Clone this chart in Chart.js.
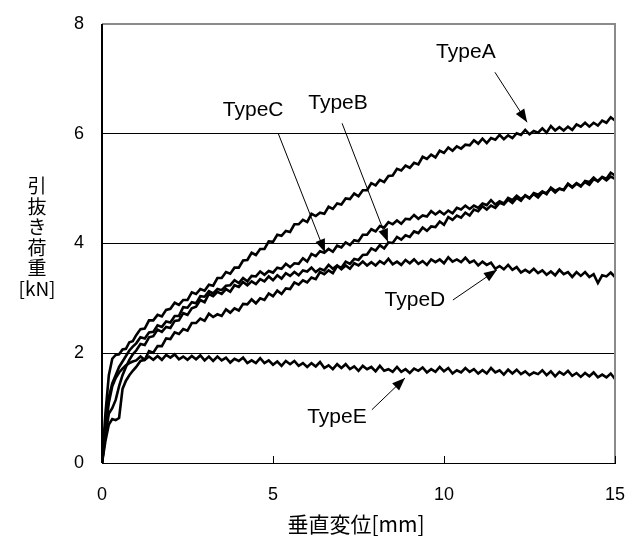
<!DOCTYPE html>
<html>
<head>
	<meta charset="utf-8" />
	<title>引抜き荷重 - 垂直変位</title>
	<script src="https://cdn.jsdelivr.net/npm/chart.js@4.4.1/dist/chart.umd.min.js"></script>
	<style>
		html, body { margin: 0; padding: 0; background: #fff; }
		#wrap { position: relative; width: 629px; height: 537px; }
	</style>
</head>
<body>
	<div id="wrap"><canvas id="graph"></canvas></div>

	<script type="text/javascript">
		// displacement [mm], shared by all five curves
		var disp = [0, 0.1, 0.2, 0.3, 0.4, 0.5, 0.6, 0.7, 0.8, 0.9, 1.0,
			1.125, 1.25, 1.375, 1.5, 1.625, 1.75, 1.875, 2.0,
			2.125, 2.25, 2.375, 2.5, 2.625, 2.75, 2.875, 3.0,
			3.125, 3.25, 3.375, 3.5, 3.625, 3.75, 3.875, 4.0,
			4.125, 4.25, 4.375, 4.5, 4.625, 4.75, 4.875, 5.0,
			5.125, 5.25, 5.375, 5.5, 5.625, 5.75, 5.875, 6.0,
			6.125, 6.25, 6.375, 6.5, 6.625, 6.75, 6.875, 7.0,
			7.125, 7.25, 7.375, 7.5, 7.625, 7.75, 7.875, 8.0,
			8.125, 8.25, 8.375, 8.5, 8.625, 8.75, 8.875, 9.0,
			9.125, 9.25, 9.375, 9.5, 9.625, 9.75, 9.875, 10.0,
			10.125, 10.25, 10.375, 10.5, 10.625, 10.75, 10.875, 11.0,
			11.125, 11.25, 11.375, 11.5, 11.625, 11.75, 11.875, 12.0,
			12.125, 12.25, 12.375, 12.5, 12.625, 12.75, 12.875, 13.0,
			13.125, 13.25, 13.375, 13.5, 13.625, 13.75, 13.875, 14.0,
			14.125, 14.25, 14.375, 14.5, 14.625, 14.75, 14.875, 15.0]

		// pull-out load [kN]
		var typeA = [0, 0.9, 1.6, 1.9, 1.97, 1.98, 2.07, 2.08, 2.2, 2.22, 2.33,
			2.44, 2.45, 2.60, 2.60, 2.70, 2.67, 2.79, 2.81,
			2.92, 2.88, 2.97, 2.97, 3.11, 3.08, 3.17, 3.14,
			3.25, 3.23, 3.37, 3.37, 3.48, 3.45, 3.56, 3.56,
			3.69, 3.70, 3.83, 3.79, 3.90, 3.90, 4.04, 4.03,
			4.16, 4.14, 4.23, 4.21, 4.35, 4.35, 4.43, 4.39,
			4.54, 4.50, 4.56, 4.54, 4.67, 4.63, 4.73, 4.71,
			4.82, 4.81, 4.91, 4.86, 4.97, 4.97, 5.10, 5.06,
			5.16, 5.12, 5.23, 5.24, 5.36, 5.33, 5.42, 5.38,
			5.47, 5.44, 5.58, 5.54, 5.62, 5.57, 5.69, 5.65,
			5.75, 5.69, 5.77, 5.73, 5.80, 5.79, 5.88, 5.82,
			5.91, 5.83, 5.92, 5.89, 5.98, 5.90, 5.97, 5.92,
			6.01, 5.98, 6.07, 5.99, 6.05, 6.02, 6.10, 6.02,
			6.14, 6.06, 6.12, 6.06, 6.13, 6.07, 6.17, 6.13,
			6.20, 6.13, 6.20, 6.15, 6.24, 6.20, 6.30, 6.24]
		var typeB = [0, 0.4, 0.7, 0.8, 0.78, 0.82, 1.35, 1.5, 1.6, 1.68, 1.75,
			1.86, 1.88, 2.04, 2.01, 2.13, 2.13, 2.27, 2.26,
			2.38, 2.35, 2.44, 2.41, 2.55, 2.55, 2.63, 2.59,
			2.72, 2.66, 2.71, 2.68, 2.80, 2.74, 2.82, 2.78,
			2.90, 2.89, 2.98, 2.91, 3.00, 2.97, 3.09, 3.04,
			3.14, 3.08, 3.18, 3.17, 3.29, 3.25, 3.33, 3.29,
			3.38, 3.35, 3.48, 3.44, 3.51, 3.46, 3.59, 3.56,
			3.67, 3.63, 3.72, 3.70, 3.79, 3.80, 3.91, 3.87,
			3.97, 3.91, 4.02, 4.01, 4.12, 4.07, 4.15, 4.12,
			4.22, 4.19, 4.29, 4.23, 4.31, 4.30, 4.40, 4.34,
			4.48, 4.43, 4.51, 4.47, 4.56, 4.51, 4.62, 4.59,
			4.68, 4.62, 4.69, 4.65, 4.74, 4.71, 4.80, 4.74,
			4.83, 4.78, 4.88, 4.83, 4.90, 4.84, 4.93, 4.92,
			5.00, 4.93, 5.00, 4.98, 5.09, 5.03, 5.10, 5.05,
			5.12, 5.07, 5.17, 5.14, 5.21, 5.15, 5.22, 5.18]
		var typeC = [0, 0.7, 1.2, 1.45, 1.6, 1.75, 1.85, 1.95, 2.05, 2.12, 2.18,
			2.29, 2.27, 2.38, 2.39, 2.51, 2.48, 2.58, 2.56,
			2.68, 2.68, 2.84, 2.83, 2.93, 2.91, 3.04, 3.03,
			3.13, 3.09, 3.17, 3.15, 3.23, 3.24, 3.33, 3.28,
			3.37, 3.31, 3.41, 3.40, 3.49, 3.43, 3.50, 3.47,
			3.56, 3.54, 3.63, 3.57, 3.64, 3.63, 3.73, 3.67,
			3.81, 3.77, 3.86, 3.83, 3.90, 3.85, 3.96, 3.93,
			4.02, 3.97, 4.06, 4.04, 4.16, 4.16, 4.26, 4.22,
			4.32, 4.29, 4.39, 4.35, 4.42, 4.36, 4.45, 4.44,
			4.52, 4.45, 4.51, 4.49, 4.59, 4.53, 4.59, 4.53,
			4.60, 4.55, 4.65, 4.62, 4.69, 4.63, 4.69, 4.65,
			4.73, 4.70, 4.79, 4.71, 4.77, 4.73, 4.83, 4.79,
			4.87, 4.81, 4.87, 4.82, 4.92, 4.89, 4.95, 4.90,
			5.02, 4.96, 5.00, 4.97, 5.08, 5.02, 5.09, 5.04,
			5.14, 5.12, 5.20, 5.13, 5.21, 5.18, 5.29, 5.24]
		var typeD = [0, 0.5, 0.9, 1.0, 1.15, 1.4, 1.6, 1.75, 1.88, 1.98, 2.05,
			2.17, 2.15, 2.29, 2.31, 2.43, 2.39, 2.48, 2.46,
			2.59, 2.60, 2.73, 2.70, 2.82, 2.85, 2.97, 2.93,
			3.08, 3.04, 3.12, 3.08, 3.17, 3.12, 3.24, 3.21,
			3.30, 3.24, 3.31, 3.26, 3.35, 3.31, 3.40, 3.33,
			3.42, 3.36, 3.46, 3.41, 3.48, 3.42, 3.51, 3.49,
			3.56, 3.48, 3.54, 3.51, 3.61, 3.54, 3.60, 3.53,
			3.60, 3.54, 3.64, 3.60, 3.67, 3.60, 3.66, 3.60,
			3.68, 3.63, 3.72, 3.62, 3.67, 3.61, 3.70, 3.64,
			3.71, 3.63, 3.68, 3.61, 3.71, 3.66, 3.71, 3.64,
			3.75, 3.67, 3.71, 3.66, 3.74, 3.65, 3.69, 3.60,
			3.67, 3.61, 3.65, 3.54, 3.59, 3.53, 3.61, 3.52,
			3.57, 3.47, 3.52, 3.47, 3.54, 3.46, 3.51, 3.43,
			3.49, 3.42, 3.52, 3.44, 3.48, 3.39, 3.48, 3.41,
			3.48, 3.39, 3.44, 3.28, 3.42, 3.40, 3.47, 3.39]
		var typeE = [0, 0.6, 1.1, 1.4, 1.55, 1.65, 1.72, 1.78, 1.82, 1.85, 1.87,
			1.94, 1.88, 1.94, 1.88, 1.95, 1.88, 1.97, 1.92,
			1.98, 1.89, 1.94, 1.88, 1.95, 1.89, 1.96, 1.87,
			1.94, 1.86, 1.94, 1.87, 1.92, 1.83, 1.90, 1.86,
			1.92, 1.82, 1.87, 1.82, 1.91, 1.82, 1.87, 1.79,
			1.85, 1.77, 1.86, 1.80, 1.86, 1.77, 1.82, 1.75,
			1.82, 1.76, 1.84, 1.73, 1.78, 1.71, 1.80, 1.73,
			1.80, 1.71, 1.76, 1.68, 1.77, 1.71, 1.75, 1.67,
			1.77, 1.68, 1.71, 1.66, 1.75, 1.66, 1.71, 1.64,
			1.72, 1.68, 1.74, 1.65, 1.71, 1.66, 1.75, 1.67,
			1.73, 1.63, 1.69, 1.65, 1.73, 1.66, 1.71, 1.63,
			1.69, 1.63, 1.73, 1.65, 1.69, 1.61, 1.70, 1.63,
			1.70, 1.62, 1.67, 1.60, 1.65, 1.62, 1.69, 1.60,
			1.67, 1.58, 1.66, 1.61, 1.68, 1.59, 1.64, 1.57,
			1.64, 1.58, 1.65, 1.56, 1.61, 1.56, 1.63, 1.53]

		var seriesNames = ['TypeA', 'TypeB', 'TypeC', 'TypeD', 'TypeE']
		var seriesValues = [typeA, typeB, typeC, typeD, typeE]

		var xTicks = [0, 5, 10, 15]
		var yTicks = [0, 2, 4, 6, 8]

		// callouts, in axis units: label centre, then arrow from -> to
		var callouts = [
			{ text: 'TypeA', lx: 10.64, ly: 7.49, fx: 11.49, fy: 7.12, tx: 12.43, ty: 6.21 },
			{ text: 'TypeB', lx: 6.9, ly: 6.56, fx: 7.02, fy: 6.19, tx: 8.36, ty: 4.03 },
			{ text: 'TypeC', lx: 4.42, ly: 6.43, fx: 5.15, fy: 6.01, tx: 6.52, ty: 3.84 },
			{ text: 'TypeD', lx: 9.15, ly: 2.97, fx: 10.26, fy: 2.97, tx: 11.55, ty: 3.52 },
			{ text: 'TypeE', lx: 6.87, ly: 0.84, fx: 7.89, fy: 0.97, tx: 8.86, ty: 1.55 }
		]

		var latin = "'Liberation Sans', 'Noto Sans CJK JP', sans-serif"
		var cjk = "'Noto Sans CJK JP', sans-serif"

		var datasets = []
		for (var i = 0; i < seriesNames.length; i++) {
			var pts = []
			for (var j = 0; j < disp.length; j++) {
				pts.push({ x: disp[j], y: seriesValues[i][j] })
			}
			datasets.push({
				label: seriesNames[i],
				data: pts,
				borderColor: '#000',
				borderWidth: 2.6,
				pointRadius: 0,
				tension: 0,
				fill: false
			})
		}

		function arrow(ctx, x0, y0, x1, y1) {
			ctx.beginPath()
			ctx.moveTo(x0, y0)
			ctx.lineTo(x1, y1)
			ctx.stroke()
			var a = Math.atan2(y1 - y0, x1 - x0)
			var len = 13, half = 5
			ctx.beginPath()
			ctx.moveTo(x1, y1)
			ctx.lineTo(x1 - len * Math.cos(a) + half * Math.sin(a), y1 - len * Math.sin(a) - half * Math.cos(a))
			ctx.lineTo(x1 - len * Math.cos(a) - half * Math.sin(a), y1 - len * Math.sin(a) + half * Math.cos(a))
			ctx.closePath()
			ctx.fill()
		}

		var decor = {
			id: 'decor',
			afterDatasetsDraw: function (chart) {
				var ctx = chart.ctx
				var a = chart.chartArea
				var xs = chart.scales.x, ys = chart.scales.y
				ctx.save()
				// grey frame on top and right
				ctx.strokeStyle = '#8a8a8a'
				ctx.lineWidth = 2
				ctx.beginPath()
				ctx.moveTo(a.left, a.top)
				ctx.lineTo(a.right, a.top)
				ctx.lineTo(a.right, a.bottom)
				ctx.stroke()
				// left axis
				ctx.strokeStyle = '#000'
				ctx.lineWidth = 2
				ctx.beginPath()
				ctx.moveTo(a.left, a.top)
				ctx.lineTo(a.left, a.bottom)
				ctx.stroke()
				// inward ticks on x axis
				ctx.lineWidth = 1
				xTicks.forEach(function (v) {
					var px = Math.round(xs.getPixelForValue(v)) + 0.5
					ctx.beginPath()
					ctx.moveTo(px, a.bottom)
					ctx.lineTo(px, a.bottom - 7)
					ctx.stroke()
				})
				// callouts
				ctx.fillStyle = '#000'
				ctx.lineWidth = 1
				ctx.font = '21px ' + latin
				ctx.textAlign = 'center'
				ctx.textBaseline = 'middle'
				callouts.forEach(function (c) {
					ctx.fillText(c.text, xs.getPixelForValue(c.lx), ys.getPixelForValue(c.ly))
					arrow(ctx, xs.getPixelForValue(c.fx), ys.getPixelForValue(c.fy),
						xs.getPixelForValue(c.tx), ys.getPixelForValue(c.ty))
				})
				ctx.restore()
			},
			afterDraw: function (chart) {
				var ctx = chart.ctx
				ctx.save()
				ctx.fillStyle = '#000'
				ctx.textAlign = 'center'
				ctx.textBaseline = 'middle'
				// vertical y title
				ctx.font = '19px ' + cjk
				var yTitle = ['引', '抜', 'き', '荷', '重', '[kN]']
				for (var k = 0; k < yTitle.length; k++) {
					ctx.fillText(yTitle[k], 37, 186 + k * 20.5)
				}
				// x title
				ctx.font = '21px ' + cjk
				ctx.fillText('垂直変位[mm]', 356, 524)
				ctx.restore()
			}
		}

		var graph = new Chart(document.getElementById('graph'), {
			type: 'line',
			data: { datasets: datasets },
			options: {
				responsive: true,
				maintainAspectRatio: false,
				animation: false,
				devicePixelRatio: 1,
				layout: { padding: { left: 0, right: 14, top: 24, bottom: 0 } },
				plugins: { legend: { display: false }, tooltip: { enabled: false } },
				scales: {
					x: {
						type: 'linear',
						min: 0,
						max: 15,
						afterFit: function (s) { s.height = 74; s.paddingLeft = 0; s.paddingRight = 0 },
						afterBuildTicks: function (s) { s.ticks = xTicks.map(function (v) { return { value: v } }) },
						grid: { display: false, drawTicks: false },
						border: { color: '#000', width: 1 },
						ticks: { color: '#000', padding: 21, font: { family: latin, size: 18 } }
					},
					y: {
						min: 0,
						max: 8,
						afterFit: function (s) { s.width = 102; s.paddingTop = 0; s.paddingBottom = 0 },
						afterBuildTicks: function (s) { s.ticks = yTicks.map(function (v) { return { value: v } }) },
						grid: {
							drawTicks: false,
							lineWidth: 1,
							color: function (c) { return c.tick && c.tick.value === 8 ? '#8a8a8a' : '#000' }
						},
						border: { color: '#000', width: 1 },
						ticks: { color: '#000', padding: 18, font: { family: latin, size: 18 } }
					}
				}
			},
			plugins: [decor]
		})
	</script>
</body>
</html>
